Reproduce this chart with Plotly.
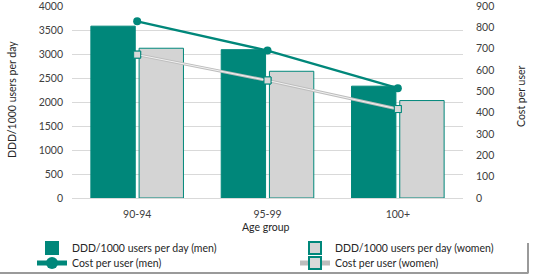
import plotly.graph_objects as go

categories = ["90-94", "95-99", "100+"]
ddd_men = [3580, 3090, 2330]
ddd_women = [3120, 2640, 2030]
cost_men = [828, 691, 515]
cost_women = [672, 551, 417]

TEAL = "#00877A"
GRAY_BAR = "#D4D4D4"
FONT = "Lato"

W, H = 533, 279
ML, MR, MT, MB = 72, 70, 6, 81
PW = W - ML - MR
PH = H - MT - MB


def px_x(px):
    return (px - ML) / PW


def px_y(py):
    return (H - MB - py) / PH


fig = go.Figure()
fig.add_trace(go.Bar(
    x=categories, y=ddd_men, name="DDD/1000 users per day (men)",
    marker=dict(color=TEAL, line=dict(color=TEAL, width=1)),
    legend="legend",
))
fig.add_trace(go.Bar(
    x=categories, y=ddd_women, name="DDD/1000 users per day (women)",
    marker=dict(color=GRAY_BAR, line=dict(color=TEAL, width=1)),
    legend="legend2",
))
fig.add_trace(go.Scatter(
    x=categories, y=cost_men, name="Cost per user (men)", yaxis="y2",
    mode="lines+markers", line=dict(color=TEAL, width=2.5),
    marker=dict(symbol="circle", size=8, color=TEAL),
    legend="legend3",
))
fig.add_trace(go.Scatter(
    x=categories, y=cost_women, name="Cost per user (women)", yaxis="y2",
    mode="lines+markers", line=dict(color="#BDBDBD", width=3),
    marker=dict(symbol="square", size=7, color="#D9D9D9",
                line=dict(color=TEAL, width=1)),
    legend="legend4",
))
fig.add_trace(go.Scatter(
    x=categories, y=cost_women, yaxis="y2", mode="lines",
    line=dict(color="#F2F2F2", width=1), showlegend=False, hoverinfo="skip",
))
fig.add_trace(go.Scatter(
    x=categories, y=cost_women, yaxis="y2", mode="markers",
    marker=dict(symbol="square", size=7, color="#D9D9D9",
                line=dict(color=TEAL, width=1)),
    showlegend=False, hoverinfo="skip",
))

legend_common = dict(font=dict(family=FONT, size=10.5, color="#262626"),
                      bgcolor="rgba(0,0,0,0)", xanchor="left", yanchor="middle",
                      orientation="v", itemsizing="constant")

fig.update_layout(
    width=W, height=H,
    margin=dict(l=ML, r=MR, t=MT, b=MB, autoexpand=False),
    paper_bgcolor="white", plot_bgcolor="white",
    font=dict(family=FONT, size=10.5, color="#404040"),
    barmode="group", bargap=0.26, bargroupgap=0.08,
    xaxis=dict(type="category", showgrid=False, showline=True,
               linecolor="#D9D9D9", linewidth=1, ticks="",
               ticklabelstandoff=6, tickfont=dict(size=10.5)),
    yaxis=dict(range=[0, 4000], dtick=500, showgrid=True,
               gridcolor="#D9D9D9", gridwidth=1, zeroline=False,
               ticklabelstandoff=8, tickfont=dict(size=10.5),
               ticklabeloverflow="allow"),
    yaxis2=dict(range=[0, 900], dtick=100, overlaying="y", side="right",
                showgrid=False, zeroline=False, ticklabelstandoff=12,
                tickfont=dict(size=10.5), ticklabeloverflow="allow"),
    legend=dict(x=px_x(32), y=px_y(248), **legend_common),
    legend2=dict(x=px_x(295), y=px_y(248), **legend_common),
    legend3=dict(x=px_x(32), y=px_y(263), **legend_common),
    legend4=dict(x=px_x(295), y=px_y(263), **legend_common),
    showlegend=True,
    annotations=[
        dict(text="DDD/1000 users per day", x=px_x(12), y=px_y(100),
             xref="paper", yref="paper", showarrow=False, textangle=-90,
             xanchor="center", yanchor="middle",
             font=dict(size=10.5, color="#262626")),
        dict(text="Cost per user", x=px_x(521), y=px_y(96),
             xref="paper", yref="paper", showarrow=False, textangle=-90,
             xanchor="center", yanchor="middle",
             font=dict(size=10.5, color="#262626")),
        dict(text="Age group", x=px_x(266), y=px_y(227),
             xref="paper", yref="paper", showarrow=False,
             xanchor="center", yanchor="middle",
             font=dict(size=10.5, color="#262626")),
    ],
    shapes=[
        dict(type="line", xref="paper", yref="paper", layer="above",
             x0=px_x(0), x1=px_x(528.5), y0=px_y(273), y1=px_y(273),
             line=dict(color="#9A9A9A", width=2)),
        dict(type="line", xref="paper", yref="paper", layer="above",
             x0=px_x(528), x1=px_x(528), y0=px_y(243), y1=px_y(273),
             line=dict(color="#9A9A9A", width=2)),
    ],
)

fig.write_html("out.html", config={"displayModeBar": False},
               post_script="document.body.style.margin='0';document.body.style.overflow='hidden';")
